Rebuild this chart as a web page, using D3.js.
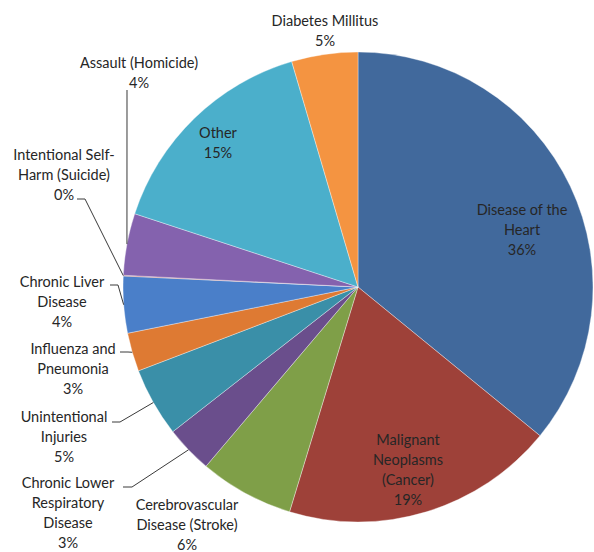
<!DOCTYPE html>
<html>
<head>
<meta charset="utf-8">
<script src="https://cdn.jsdelivr.net/npm/d3@7"></script>
<style>
  html, body { margin: 0; padding: 0; background: #ffffff; }
  svg { display: block; }
</style>
</head>
<body>
<div id="chart"></div>
<script>
// ---- data ----
const categories = [
  "Disease of the Heart",
  "Malignant Neoplasms (Cancer)",
  "Cerebrovascular Disease (Stroke)",
  "Chronic Lower Respiratory Disease",
  "Unintentional Injuries",
  "Influenza and Pneumonia",
  "Chronic Liver Disease",
  "Intentional Self-Harm (Suicide)",
  "Assault (Homicide)",
  "Other",
  "Diabetes Millitus"
];
const values = [35.9, 18.8, 6.49, 3.25, 4.75, 2.65, 3.9, 0.05, 4.25, 15.4, 4.55];
const labelLines = [
  ["Disease of the", "Heart"],
  ["Malignant", "Neoplasms", "(Cancer)"],
  ["Cerebrovascular", "Disease (Stroke)"],
  ["Chronic Lower", "Respiratory", "Disease"],
  ["Unintentional", "Injuries"],
  ["Influenza and", "Pneumonia"],
  ["Chronic Liver", "Disease"],
  ["Intentional Self-", "Harm (Suicide)"],
  ["Assault (Homicide)"],
  ["Other"],
  ["Diabetes Millitus"]
];
const colors = ["#41699c", "#9e4139", "#7f9f48", "#6a4e8c", "#3a8fa8", "#de7a33",
                "#4a7fc9", "#b0413c", "#8462ae", "#4bafcb", "#f49441"];

// ---- layout (positions of label blocks: x centre, y centre of first line) ----
const W = 594, H = 552;
const cx = 358, cy = 287, R = 235;
const lineH = 20;
const labelPos = [
  [522, 210], [408, 440], [187, 505], [68, 483], [64, 417], [73, 349],
  [62, 282], [64, 155], [139, 63], [218, 133], [325, 21]
];
// leader line starting points (null = no leader); hook = short horizontal run
const leaderStart = [
  null, null, null,
  {p: [123, 487], hook: 9},
  {p: [112, 422], hook: 8},
  {p: [120, 352], hook: 8},
  {p: [110, 285], hook: 8},
  {p: [77, 199], hook: 8},
  {p: [127, 90], hook: 0},
  null, null
];

const svg = d3.select("#chart").append("svg")
  .attr("width", W).attr("height", H);

const total = d3.sum(values);
const pie = d3.pie().sort(null).value(d => d)(values);
const arc = d3.arc().innerRadius(0).outerRadius(R);

const g = svg.append("g").attr("transform", `translate(${cx},${cy})`);
g.selectAll("path.slice")
  .data(pie)
  .join("path")
  .attr("class", "slice")
  .attr("d", arc)
  .attr("fill", (d, i) => colors[i])
  .attr("stroke", "#ffffff")
  .attr("stroke-opacity", 0.45)
  .attr("stroke-width", 0.8);

// leader lines
pie.forEach((d, i) => {
  const ls = leaderStart[i];
  if (!ls) return;
  const a = (d.startAngle + d.endAngle) / 2;
  const ex = cx + R * Math.sin(a), ey = cy - R * Math.cos(a);
  const pts = [ls.p];
  if (ls.hook) pts.push([ls.p[0] + ls.hook, ls.p[1]]);
  pts.push([ex, ey]);
  svg.append("path")
    .attr("d", d3.line()(pts))
    .attr("fill", "none")
    .attr("stroke", "#3a3a3a")
    .attr("stroke-width", 1);
});

// labels
const fmt = v => Math.round(v / total * 100) + "%";
pie.forEach((d, i) => {
  const lines = labelLines[i].concat([fmt(values[i])]);
  const t = svg.append("text")
    .attr("x", labelPos[i][0])
    .attr("y", labelPos[i][1])
    .attr("text-anchor", "middle")
    .attr("font-family", "Lato, 'Open Sans', sans-serif")
    .attr("font-size", 14.5)
    .attr("fill", "#262626");
  lines.forEach((s, k) => {
    t.append("tspan")
      .attr("x", labelPos[i][0])
      .attr("y", labelPos[i][1] + k * lineH)
      .attr("dy", "0.35em")
      .text(s);
  });
});
</script>
</body>
</html>
